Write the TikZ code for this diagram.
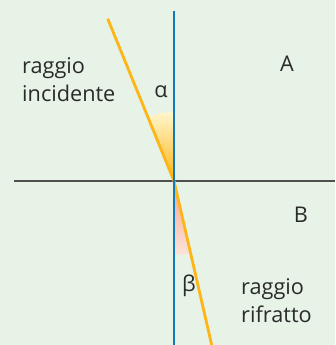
\documentclass[tikz,border=0pt]{standalone}
\usepackage{fontspec}
\setmainfont{Open Sans}
\usetikzlibrary{calc}
\definecolor{bgcol}{HTML}{E7F3E7}
\definecolor{normalcol}{HTML}{1479B8}
\definecolor{raycol}{HTML}{FDB517}
\definecolor{surfcol}{HTML}{505050}
\definecolor{textcol}{HTML}{2A2A2A}
\definecolor{alphatop}{HTML}{FFF6CC}
\definecolor{betatop}{HTML}{F7A38E}
\definecolor{betabot}{HTML}{FBE4DA}

\begin{document}
\begin{tikzpicture}[x=0.03cm, y=0.03cm,
  ray/.style={raycol, line width=2.4pt},
  normal/.style={normalcol, line width=2.5pt},
  surface/.style={surfcol, line width=1.4pt},
  lbl/.style={textcol, inner sep=0pt, align=left, font=\fontsize{18.5}{24.7}\selectfont}]
  % background and frame
  \fill[bgcol] (0,0) rectangle (335,345);
  \useasboundingbox (0,0) rectangle (335,345);
  % points
  \coordinate (O) at (174,164);
  \coordinate (Ntop) at (174,334);
  \coordinate (Nbot) at (174,0);
  \coordinate (Sl) at (14,164);
  \coordinate (Sr) at (335,164);
  \coordinate (I) at (107.7,326.3);
  \coordinate (R) at (211.7,0);
  % angle wedges
  \shade[top color=alphatop, bottom color=raycol]
    (O) -- ++(90:69) arc[start angle=90, end angle=112.3, radius=69] -- cycle;
  \shade[top color=betatop, bottom color=betabot]
    (O) -- ++(270:74) arc[start angle=270, end angle=283, radius=74] -- cycle;
  % surface, rays, normal
  \draw[surface] (Sl) -- (Sr);
  \draw[ray] (I) -- (O) -- (R);
  \draw[normal] (Ntop) -- (Nbot);
  % labels (base = last line)
  \node[lbl, anchor=base west] (inc) at (22,243) {raggio\\incidente};
  \node[lbl, anchor=base west] (rif) at (241,22) {raggio\\rifratto};
  \node[lbl, anchor=base] (A) at (287,273) {A};
  \node[lbl, anchor=base] (B) at (301,122) {B};
  \node[lbl, anchor=base] (alpha) at (161,247) {α};
  \node[lbl, anchor=base] (beta) at (189,53) {β};
\end{tikzpicture}
\end{document}
